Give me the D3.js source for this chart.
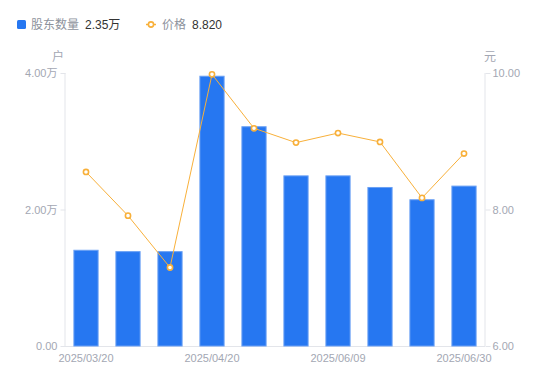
<!DOCTYPE html>
<html><head><meta charset="utf-8">
<script src="https://cdn.jsdelivr.net/npm/d3@7"></script>
<style>
html,body{margin:0;padding:0;background:#fff;}
text{font-family:"Liberation Sans","Noto Sans CJK SC",Arial,sans-serif;}
</style></head>
<body><svg id="c" width="550" height="381"></svg>
<script>
const dates = ["2025/03/20","2025/03/31","2025/04/10","2025/04/20","2025/05/09","2025/05/20","2025/06/09","2025/06/13","2025/06/20","2025/06/30"];
const holders = [1.41,1.39,1.39,3.96,3.22,2.50,2.50,2.33,2.15,2.35]; // 万户
const prices = [8.55,7.91,7.15,9.98,9.19,8.98,9.12,8.99,8.17,8.82];
const leftTicks = [0,2,4];
const rightTicks = [6,8,10];
const shownDates = ["2025/03/20","2025/04/20","2025/06/09","2025/06/30"];

const svg = d3.select("#c");
const L=65,R=485,T=73,B=346;
const x = d3.scaleBand().domain(dates).range([L,R]).paddingInner(0.4).paddingOuter(0.2);
const yL = d3.scaleLinear().domain([0,4]).range([B,T]);
const yR = d3.scaleLinear().domain([6,10]).range([B,T]);
const axisCol="#e3e5ea", labCol="#a3a7b3";

const ax = svg.append("g");
ax.append("line").attr("x1",L).attr("x2",L).attr("y1",T).attr("y2",B).attr("stroke",axisCol);
ax.append("line").attr("x1",R).attr("x2",R).attr("y1",T).attr("y2",B).attr("stroke",axisCol);
ax.append("line").attr("x1",L).attr("x2",R).attr("y1",B+0.5).attr("y2",B+0.5).attr("stroke",axisCol);

const gl = svg.append("g").attr("transform",`translate(${L+0.5},0)`)
  .call(d3.axisLeft(yL).tickValues(leftTicks).tickSize(5).tickPadding(3).tickFormat(d=>d===0?"0.00":d3.format(".2f")(d)+"万"));
const gr = svg.append("g").attr("transform",`translate(${R+0.5},0)`)
  .call(d3.axisRight(yR).tickValues(rightTicks).tickSize(5).tickPadding(2).tickFormat(d3.format(".2f")));
[gl,gr].forEach(g=>{
  g.select(".domain").remove();
  g.selectAll(".tick line").attr("stroke",axisCol);
  g.selectAll(".tick text").attr("fill",labCol).style("font-size","11px");
});

const gx = svg.append("g").attr("transform",`translate(0,${B})`)
  .call(d3.axisBottom(x).tickValues(shownDates).tickSize(0).tickPadding(8));
gx.select(".domain").remove();
gx.selectAll(".tick text").attr("fill",labCol).style("font-size","11px");

svg.append("text").attr("x",58).attr("y",61).attr("text-anchor","middle").attr("fill",labCol).style("font-size","12px").text("户");
svg.append("text").attr("x",490).attr("y",61).attr("text-anchor","middle").attr("fill",labCol).style("font-size","12px").text("元");

const barCol="#2677f1";
svg.append("g").selectAll("rect").data(holders).join("rect")
  .attr("x",(d,i)=>x(dates[i])+0.5).attr("width",x.bandwidth()-1)
  .attr("y",d=>yL(d)+0.5).attr("height",d=>B-yL(d)-0.5)
  .attr("fill",barCol).attr("stroke","#6aa0f4").attr("stroke-width",1);

const lineCol="#f8b03a";
const cx=i=>x(dates[i])+x.bandwidth()/2;
svg.append("path").datum(prices)
  .attr("d",d3.line().x((d,i)=>cx(i)).y(d=>yR(d)))
  .attr("fill","none").attr("stroke",lineCol).attr("stroke-width",1);
svg.append("g").selectAll("circle").data(prices).join("circle")
  .attr("cx",(d,i)=>cx(i)).attr("cy",d=>yR(d)).attr("r",2.6)
  .attr("fill","#fff").attr("stroke",lineCol).attr("stroke-width",1.6);

const lg = svg.append("g");
lg.append("rect").attr("x",17).attr("y",20).attr("width",9).attr("height",9).attr("rx",1.5).attr("fill",barCol);
lg.append("text").attr("x",31).attr("y",29).attr("fill","#8d929c").style("font-size","12px").text("股东数量");
lg.append("text").attr("x",85).attr("y",29).attr("fill","#333").style("font-size","12px").text("2.35万");
lg.append("line").attr("x1",146).attr("x2",156).attr("y1",24.5).attr("y2",24.5).attr("stroke",lineCol).attr("stroke-width",1.5);
lg.append("circle").attr("cx",151).attr("cy",24.5).attr("r",2.6).attr("fill","#fff").attr("stroke",lineCol).attr("stroke-width",1.6);
lg.append("text").attr("x",162).attr("y",29).attr("fill","#8d929c").style("font-size","12px").text("价格");
lg.append("text").attr("x",192).attr("y",29).attr("fill","#333").style("font-size","12px").text("8.820");
</script></body></html>
